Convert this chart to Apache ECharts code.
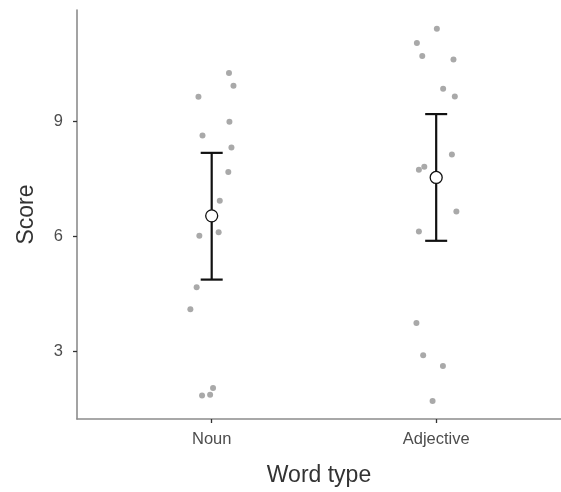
<!DOCTYPE html>
<html>
<head>
<meta charset="utf-8">
<script src="https://cdn.jsdelivr.net/npm/echarts@6/dist/echarts.min.js"></script>
<style>
html,body{margin:0;padding:0;background:#fff;}
#chart{width:561px;height:492px;}
</style>
</head>
<body>
<div id="chart"></div>
<script>
// Categories and tick labels
const categories = ['Noun', 'Adjective'];
const yTicks = [3, 6, 9];

// Individual scores and their horizontal jitter
const nounScores = [10.25, 9.92, 9.63, 8.98, 8.62, 8.31, 7.67, 6.92, 6.10, 6.01, 4.67, 4.10, 1.85, 1.87, 2.05];
const nounJitter = [0.077, 0.097, -0.059, 0.079, -0.041, 0.088, 0.074, 0.036, 0.031, -0.055, -0.067, -0.095, -0.043, -0.007, 0.006];
const adjScores = [11.40, 11.03, 10.69, 10.60, 9.84, 9.64, 8.13, 7.81, 7.73, 6.64, 6.12, 3.74, 2.90, 2.62, 1.71];
const adjJitter = [0.003, -0.086, -0.062, 0.077, 0.031, 0.083, 0.070, -0.053, -0.077, 0.090, -0.077, -0.088, -0.058, 0.030, -0.016];

// Summary: means and error bar limits
const means = [6.53, 7.53];
const upper = [8.17, 9.18];
const lower = [4.87, 5.88];

const pts = [];
nounScores.forEach((v, i) => pts.push([1 + nounJitter[i], v]));
adjScores.forEach((v, i) => pts.push([2 + adjJitter[i], v]));
const errData = categories.map((c, i) => [i + 1, lower[i], upper[i]]);
const meanData = categories.map((c, i) => [i + 1, means[i]]);

const chart = echarts.init(document.getElementById('chart'), null, {renderer: 'canvas'});
const fontFam = '"Liberation Sans", Arial, sans-serif';
chart.setOption({
  animation: false,
  backgroundColor: '#ffffff',
  grid: {left: 77, top: 10, right: 0, bottom: 70, containLabel: false},
  xAxis: {
    type: 'value', min: 0.4, max: 2.556,
    name: 'Word type', nameLocation: 'middle', nameGap: 45,
    nameTextStyle: {fontFamily: fontFam, fontSize: 23, color: '#333333'},
    axisLine: {show: true, onZero: false, lineStyle: {color: '#8c8c8c', width: 1.6}},
    axisTick: {show: true, customValues: [1, 2], length: 4, lineStyle: {color: '#333333', width: 1.3}},
    axisLabel: {show: true, customValues: [1, 2], margin: 12, fontFamily: fontFam, fontSize: 16.5, color: '#4d4d4d',
      formatter: v => categories[Math.round(v) - 1] || ''},
    splitLine: {show: false}
  },
  yAxis: {
    type: 'value', min: 1.24, max: 11.89,
    name: 'Score', nameLocation: 'middle', nameGap: 39, nameRotate: 90,
    nameTextStyle: {fontFamily: fontFam, fontSize: 23, color: '#333333'},
    axisLine: {show: true, onZero: false, lineStyle: {color: '#8c8c8c', width: 1.6}},
    axisTick: {show: true, customValues: yTicks, length: 4, lineStyle: {color: '#333333', width: 1.3}},
    axisLabel: {show: true, customValues: yTicks, margin: 14, fontFamily: fontFam, fontSize: 16.5, color: '#4d4d4d'},
    splitLine: {show: false}
  },
  series: [
    {
      type: 'scatter', data: pts, symbolSize: 6,
      itemStyle: {color: '#a9a9a9', opacity: 1}, z: 2
    },
    {
      type: 'custom', data: errData, z: 3,
      renderItem: function (params, api) {
        const x = api.value(0);
        const lo = api.coord([x, api.value(1)]);
        const hi = api.coord([x, api.value(2)]);
        const hw = 11;
        const style = {stroke: '#111111', lineWidth: 2.2, fill: null};
        return {
          type: 'group',
          children: [
            {type: 'line', shape: {x1: lo[0], y1: lo[1], x2: hi[0], y2: hi[1]}, style: style},
            {type: 'line', shape: {x1: hi[0] - hw, y1: hi[1], x2: hi[0] + hw, y2: hi[1]}, style: style},
            {type: 'line', shape: {x1: lo[0] - hw, y1: lo[1], x2: lo[0] + hw, y2: lo[1]}, style: style}
          ]
        };
      }
    },
    {
      type: 'scatter', data: meanData, symbol: 'circle', symbolSize: 12, z: 5,
      itemStyle: {color: '#ffffff', borderColor: '#111111', borderWidth: 1.3, opacity: 1}
    }
  ]
});
</script>
</body>
</html>
